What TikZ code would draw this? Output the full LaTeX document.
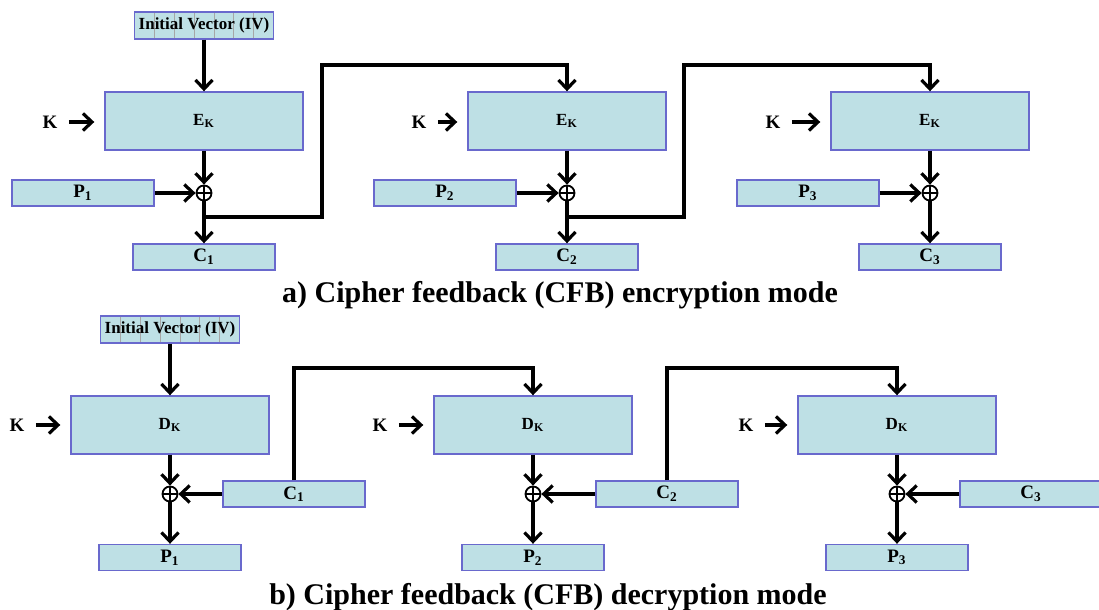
\documentclass[tikz,border=0pt]{standalone}
\usepackage{fontspec}
\setmainfont{Liberation Serif}
\usetikzlibrary{calc,arrows.meta}
\definecolor{boxfill}{RGB}{190,224,229}
\definecolor{boxline}{RGB}{105,105,205}
\tikzset{
  blk/.style={draw=boxline,fill=boxfill,line width=0.7pt,inner sep=0pt,
    font=\fontsize{9.5}{10}\selectfont\bfseries},
  enc/.style={blk,minimum width=99pt,minimum height=29pt,font=\fontsize{8.5}{9}\selectfont\bfseries},
  small/.style={blk,minimum width=71pt,minimum height=13pt},
  ivbox/.style={blk,minimum width=69.5pt,minimum height=13.5pt,
    font=\fontsize{8.5}{9}\selectfont\bfseries,
    path picture={\foreach \j in {1,...,6}
      \draw[gray!70,line width=0.4pt]
        ($(path picture bounding box.south west)!\j/7!(path picture bounding box.south east)$) --
        ($(path picture bounding box.north west)!\j/7!(path picture bounding box.north east)$);}},
  xor/.style={circle,draw,line width=0.9pt,minimum size=7.5pt,inner sep=0pt,
    path picture={\draw[line width=0.9pt]
      (path picture bounding box.north) -- (path picture bounding box.south)
      (path picture bounding box.west) -- (path picture bounding box.east);}},
  lbl/.style={inner sep=1pt,font=\fontsize{9.5}{10}\selectfont\bfseries},
  title/.style={inner sep=0pt,font=\fontsize{15}{17}\selectfont\bfseries}
}

\begin{document}
\begin{tikzpicture}[x=0.5pt,y=-0.5pt,line width=1.6pt,>={Straight Barb[length=4.5pt,width=8.5pt]}]
  \useasboundingbox (0,0) rectangle (1099,610);
  % a) encryption
  \node[ivbox] (IVa) at (204,25.5) {Initial Vector (IV)};
  \foreach \i/\x/\kx/\px in {1/204/50/83, 2/567/419/445, 3/930/773/808} {
    \node[enc] (Ea\i) at (\x,121) {E\textsubscript{K}};
    \node[lbl] (Ka\i) at (\kx,122) {K};
    \node[xor] (Xa\i) at (\x,193) {};
    \node[small] (Pa\i) at (\px,193) {P\textsubscript{\i}};
    \node[small] (Ca\i) at (\x,257) {C\textsubscript{\i}};
    \coordinate (Ta\i) at (\x,217);
    \draw[->,shorten <=4pt,shorten >=5pt] (Ka\i.east) -- (Ka\i.east -| Ea\i.west);
    \draw[->] (Ea\i) -- (Xa\i);
    \draw[->] (Pa\i) -- (Xa\i);
    \draw[->] (Xa\i) -- (Ca\i);
  }
  \draw[->] (IVa) -- (Ea1);
  \coordinate (Ua1) at (322,65);
  \coordinate (Ua2) at (684,65);
  \draw[->] (Ta1) -| (Ua1) -| (Ea2.north);
  \draw[->] (Ta2) -| (Ua2) -| (Ea3.north);
  \node[title] (Tia) at (560,295) {a) Cipher feedback (CFB) encryption mode};

  % b) decryption
  \node[ivbox] (IVb) at (170,329.5) {Initial Vector (IV)};
  \foreach \i/\x/\kx/\cx in {1/170/17/294, 2/533/380/667, 3/897/746/1031} {
    \node[enc] (Db\i) at (\x,425) {D\textsubscript{K}};
    \node[lbl] (Kb\i) at (\kx,425) {K};
    \node[xor] (Xb\i) at (\x,494) {};
    \node[small] (Cb\i) at (\cx,494) {C\textsubscript{\i}};
    \node[small] (Pb\i) at (\x,557.5) {P\textsubscript{\i}};
    \draw[->,shorten <=4pt,shorten >=5pt] (Kb\i.east) -- (Kb\i.east -| Db\i.west);
    \draw[->] (Db\i) -- (Xb\i);
    \draw[->] (Cb\i) -- (Xb\i);
    \draw[->] (Xb\i) -- (Pb\i);
  }
  \draw[->] (IVb) -- (Db1);
  \coordinate (Vb1) at (533,368);
  \coordinate (Vb2) at (897,368);
  \draw[->] (Cb1.north) |- (Vb1) -- (Db2.north);
  \draw[->] (Cb2.north) |- (Vb2) -- (Db3.north);
  \node[title] (Tib) at (548,597) {b) Cipher feedback (CFB) decryption mode};
\end{tikzpicture}
\end{document}
